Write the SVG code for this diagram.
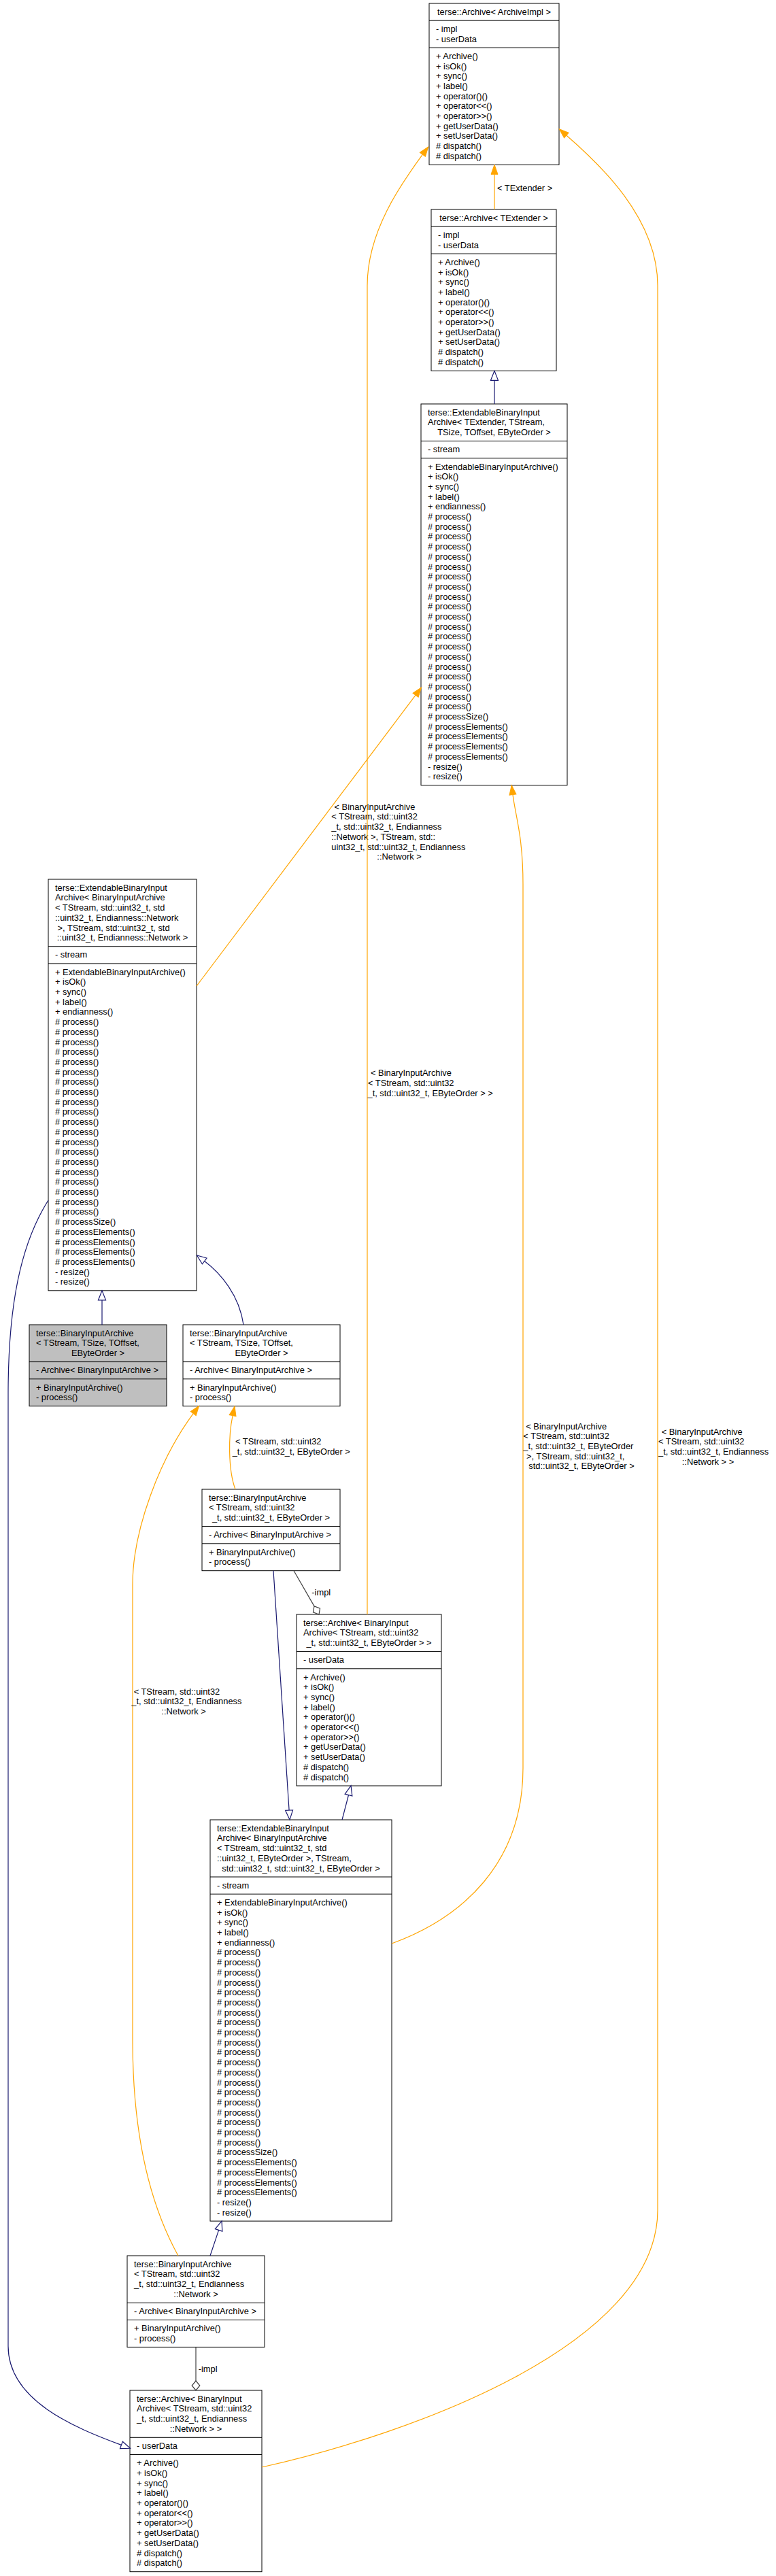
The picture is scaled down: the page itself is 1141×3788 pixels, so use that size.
<svg xmlns="http://www.w3.org/2000/svg" width="1141" height="3788" viewBox="0 0 1141 3788">
<defs>
<style>
.n{fill:#fff;stroke:#000;stroke-width:1}
.g{fill:#bfbfbf;stroke:#000;stroke-width:1}
.d{stroke:#000;stroke-width:1}
text{font-family:"Liberation Sans",Arial,Helvetica,sans-serif;font-size:12.85px;fill:#000}
.m{text-anchor:middle}
.eo{fill:none;stroke:#ffa500;stroke-width:1.2}
.eb{fill:none;stroke:#191970;stroke-width:1.2}
.ea{fill:none;stroke:#404040;stroke-width:1.2}
</style>
<marker id="arrO" markerUnits="userSpaceOnUse" orient="auto" refX="0" refY="5" markerWidth="16" markerHeight="12" overflow="visible"><path d="M0,0 L14,5 L0,10 z" fill="#ffa500" stroke="#ffa500" stroke-width="1"/></marker>
<marker id="triB" markerUnits="userSpaceOnUse" orient="auto" refX="0" refY="5.5" markerWidth="16" markerHeight="12" overflow="visible"><path d="M0,0 L14,5.5 L0,11 z" fill="#fff" stroke="#191970" stroke-width="1.2"/></marker>
<marker id="dia" markerUnits="userSpaceOnUse" orient="auto" refX="0" refY="5.8" markerWidth="16" markerHeight="13" overflow="visible"><path d="M0,5.8 L7,0 L14,5.8 L7,11.6 z" fill="#fff" stroke="#404040" stroke-width="1.2"/></marker>
</defs>
<rect width="1141" height="3788" fill="#fff"/>

<g id="node1">
<rect class="n" x="631" y="5" width="191" height="237.3"/>
<line class="d" x1="631" y1="30.2" x2="822" y2="30.2"/><line class="d" x1="631" y1="70.1" x2="822" y2="70.1"/>
<text class="m" x="726.5" y="21.75">terse::Archive&lt; ArchiveImpl &gt;</text>
<text x="641" y="46.95"><tspan x="641">- impl</tspan><tspan x="641" dy="14.7">- userData</tspan></text>
<text x="641" y="86.85"><tspan x="641">+ Archive()</tspan><tspan x="641" dy="14.7">+ isOk()</tspan><tspan x="641" dy="14.7">+ sync()</tspan><tspan x="641" dy="14.7">+ label()</tspan><tspan x="641" dy="14.7">+ operator()()</tspan><tspan x="641" dy="14.7">+ operator&lt;&lt;()</tspan><tspan x="641" dy="14.7">+ operator&gt;&gt;()</tspan><tspan x="641" dy="14.7">+ getUserData()</tspan><tspan x="641" dy="14.7">+ setUserData()</tspan><tspan x="641" dy="14.7"># dispatch()</tspan><tspan x="641" dy="14.7"># dispatch()</tspan></text>
</g>

<g id="node2">
<rect class="n" x="634" y="308" width="184" height="237.3"/>
<line class="d" x1="634" y1="333.2" x2="818" y2="333.2"/><line class="d" x1="634" y1="373.1" x2="818" y2="373.1"/>
<text class="m" x="726" y="324.75">terse::Archive&lt; TExtender &gt;</text>
<text x="644" y="349.95"><tspan x="644">- impl</tspan><tspan x="644" dy="14.7">- userData</tspan></text>
<text x="644" y="389.85"><tspan x="644">+ Archive()</tspan><tspan x="644" dy="14.7">+ isOk()</tspan><tspan x="644" dy="14.7">+ sync()</tspan><tspan x="644" dy="14.7">+ label()</tspan><tspan x="644" dy="14.7">+ operator()()</tspan><tspan x="644" dy="14.7">+ operator&lt;&lt;()</tspan><tspan x="644" dy="14.7">+ operator&gt;&gt;()</tspan><tspan x="644" dy="14.7">+ getUserData()</tspan><tspan x="644" dy="14.7">+ setUserData()</tspan><tspan x="644" dy="14.7"># dispatch()</tspan><tspan x="644" dy="14.7"># dispatch()</tspan></text>
</g>

<g id="node3">
<rect class="n" x="619" y="594" width="215" height="560.7"/>
<line class="d" x1="619" y1="648.6" x2="834" y2="648.6"/><line class="d" x1="619" y1="673.8" x2="834" y2="673.8"/>
<text x="629" y="610.75"><tspan x="629">terse::ExtendableBinaryInput</tspan><tspan x="629" dy="14.7">Archive&lt; TExtender, TStream,</tspan></text>
<text class="m" x="726.5" y="640.15">TSize, TOffset, EByteOrder &gt;</text>
<text x="629" y="665.35">- stream</text>
<text x="629" y="690.55"><tspan x="629">+ ExtendableBinaryInputArchive()</tspan><tspan x="629" dy="14.7">+ isOk()</tspan><tspan x="629" dy="14.7">+ sync()</tspan><tspan x="629" dy="14.7">+ label()</tspan><tspan x="629" dy="14.7">+ endianness()</tspan><tspan x="629" dy="14.7"># process()</tspan><tspan x="629" dy="14.7"># process()</tspan><tspan x="629" dy="14.7"># process()</tspan><tspan x="629" dy="14.7"># process()</tspan><tspan x="629" dy="14.7"># process()</tspan><tspan x="629" dy="14.7"># process()</tspan><tspan x="629" dy="14.7"># process()</tspan><tspan x="629" dy="14.7"># process()</tspan><tspan x="629" dy="14.7"># process()</tspan><tspan x="629" dy="14.7"># process()</tspan><tspan x="629" dy="14.7"># process()</tspan><tspan x="629" dy="14.7"># process()</tspan><tspan x="629" dy="14.7"># process()</tspan><tspan x="629" dy="14.7"># process()</tspan><tspan x="629" dy="14.7"># process()</tspan><tspan x="629" dy="14.7"># process()</tspan><tspan x="629" dy="14.7"># process()</tspan><tspan x="629" dy="14.7"># process()</tspan><tspan x="629" dy="14.7"># process()</tspan><tspan x="629" dy="14.7"># process()</tspan><tspan x="629" dy="14.7"># processSize()</tspan><tspan x="629" dy="14.7"># processElements()</tspan><tspan x="629" dy="14.7"># processElements()</tspan><tspan x="629" dy="14.7"># processElements()</tspan><tspan x="629" dy="14.7"># processElements()</tspan><tspan x="629" dy="14.7">- resize()</tspan><tspan x="629" dy="14.7">- resize()</tspan></text>
</g>

<g id="node4">
<rect class="n" x="71" y="1293" width="218" height="604.8"/>
<line class="d" x1="71" y1="1391.7" x2="289" y2="1391.7"/><line class="d" x1="71" y1="1416.9" x2="289" y2="1416.9"/>
<text x="81" y="1309.75"><tspan x="81">terse::ExtendableBinaryInput</tspan><tspan x="81" dy="14.7">Archive&lt; BinaryInputArchive</tspan><tspan x="81" dy="14.7">&lt; TStream, std::uint32_t, std</tspan><tspan x="81" dy="14.7">::uint32_t, Endianness::Network</tspan><tspan x="84.5" dy="14.7">&gt;, TStream, std::uint32_t, std</tspan></text>
<text class="m" x="180" y="1383.25">::uint32_t, Endianness::Network &gt;</text>
<text x="81" y="1408.45">- stream</text>
<text x="81" y="1433.65"><tspan x="81">+ ExtendableBinaryInputArchive()</tspan><tspan x="81" dy="14.7">+ isOk()</tspan><tspan x="81" dy="14.7">+ sync()</tspan><tspan x="81" dy="14.7">+ label()</tspan><tspan x="81" dy="14.7">+ endianness()</tspan><tspan x="81" dy="14.7"># process()</tspan><tspan x="81" dy="14.7"># process()</tspan><tspan x="81" dy="14.7"># process()</tspan><tspan x="81" dy="14.7"># process()</tspan><tspan x="81" dy="14.7"># process()</tspan><tspan x="81" dy="14.7"># process()</tspan><tspan x="81" dy="14.7"># process()</tspan><tspan x="81" dy="14.7"># process()</tspan><tspan x="81" dy="14.7"># process()</tspan><tspan x="81" dy="14.7"># process()</tspan><tspan x="81" dy="14.7"># process()</tspan><tspan x="81" dy="14.7"># process()</tspan><tspan x="81" dy="14.7"># process()</tspan><tspan x="81" dy="14.7"># process()</tspan><tspan x="81" dy="14.7"># process()</tspan><tspan x="81" dy="14.7"># process()</tspan><tspan x="81" dy="14.7"># process()</tspan><tspan x="81" dy="14.7"># process()</tspan><tspan x="81" dy="14.7"># process()</tspan><tspan x="81" dy="14.7"># process()</tspan><tspan x="81" dy="14.7"># processSize()</tspan><tspan x="81" dy="14.7"># processElements()</tspan><tspan x="81" dy="14.7"># processElements()</tspan><tspan x="81" dy="14.7"># processElements()</tspan><tspan x="81" dy="14.7"># processElements()</tspan><tspan x="81" dy="14.7">- resize()</tspan><tspan x="81" dy="14.7">- resize()</tspan></text>
</g>

<g id="node5">
<rect class="g" x="43" y="1948" width="202" height="119.7"/>
<line class="d" x1="43" y1="2002.6" x2="245" y2="2002.6"/><line class="d" x1="43" y1="2027.8" x2="245" y2="2027.8"/>
<text x="53" y="1964.75"><tspan x="53">terse::BinaryInputArchive</tspan><tspan x="53" dy="14.7">&lt; TStream, TSize, TOffset,</tspan></text>
<text class="m" x="144" y="1994.15">EByteOrder &gt;</text>
<text x="53" y="2019.35">- Archive&lt; BinaryInputArchive &gt;</text>
<text x="53" y="2044.55"><tspan x="53">+ BinaryInputArchive()</tspan><tspan x="53" dy="14.7">- process()</tspan></text>
</g>

<g id="node6">
<rect class="n" x="269" y="1948" width="231" height="119.7"/>
<line class="d" x1="269" y1="2002.6" x2="500" y2="2002.6"/><line class="d" x1="269" y1="2027.8" x2="500" y2="2027.8"/>
<text x="279" y="1964.75"><tspan x="279">terse::BinaryInputArchive</tspan><tspan x="279" dy="14.7">&lt; TStream, TSize, TOffset,</tspan></text>
<text class="m" x="384.5" y="1994.15">EByteOrder &gt;</text>
<text x="279" y="2019.35">- Archive&lt; BinaryInputArchive &gt;</text>
<text x="279" y="2044.55"><tspan x="279">+ BinaryInputArchive()</tspan><tspan x="279" dy="14.7">- process()</tspan></text>
</g>

<g id="node7">
<rect class="n" x="297" y="2190" width="203" height="119.7"/>
<line class="d" x1="297" y1="2244.6" x2="500" y2="2244.6"/><line class="d" x1="297" y1="2269.8" x2="500" y2="2269.8"/>
<text x="307" y="2206.75"><tspan x="307">terse::BinaryInputArchive</tspan><tspan x="307" dy="14.7">&lt; TStream, std::uint32</tspan></text>
<text class="m" x="398.5" y="2236.15">_t, std::uint32_t, EByteOrder &gt;</text>
<text x="307" y="2261.35">- Archive&lt; BinaryInputArchive &gt;</text>
<text x="307" y="2286.55"><tspan x="307">+ BinaryInputArchive()</tspan><tspan x="307" dy="14.7">- process()</tspan></text>
</g>

<g id="node8">
<rect class="n" x="436" y="2374" width="213" height="252"/>
<line class="d" x1="436" y1="2428.6" x2="649" y2="2428.6"/><line class="d" x1="436" y1="2453.8" x2="649" y2="2453.8"/>
<text x="446" y="2390.75"><tspan x="446">terse::Archive&lt; BinaryInput</tspan><tspan x="446" dy="14.7">Archive&lt; TStream, std::uint32</tspan></text>
<text class="m" x="542.5" y="2420.15">_t, std::uint32_t, EByteOrder &gt; &gt;</text>
<text x="446" y="2445.35">- userData</text>
<text x="446" y="2470.55"><tspan x="446">+ Archive()</tspan><tspan x="446" dy="14.7">+ isOk()</tspan><tspan x="446" dy="14.7">+ sync()</tspan><tspan x="446" dy="14.7">+ label()</tspan><tspan x="446" dy="14.7">+ operator()()</tspan><tspan x="446" dy="14.7">+ operator&lt;&lt;()</tspan><tspan x="446" dy="14.7">+ operator&gt;&gt;()</tspan><tspan x="446" dy="14.7">+ getUserData()</tspan><tspan x="446" dy="14.7">+ setUserData()</tspan><tspan x="446" dy="14.7"># dispatch()</tspan><tspan x="446" dy="14.7"># dispatch()</tspan></text>
</g>

<g id="node9">
<rect class="n" x="309" y="2676" width="267" height="590.1"/>
<line class="d" x1="309" y1="2760" x2="576" y2="2760"/><line class="d" x1="309" y1="2785.2" x2="576" y2="2785.2"/>
<text x="319" y="2692.75"><tspan x="319">terse::ExtendableBinaryInput</tspan><tspan x="319" dy="14.7">Archive&lt; BinaryInputArchive</tspan><tspan x="319" dy="14.7">&lt; TStream, std::uint32_t, std</tspan><tspan x="319" dy="14.7">::uint32_t, EByteOrder &gt;, TStream,</tspan></text>
<text class="m" x="442.5" y="2751.55">std::uint32_t, std::uint32_t, EByteOrder &gt;</text>
<text x="319" y="2776.75">- stream</text>
<text x="319" y="2801.95"><tspan x="319">+ ExtendableBinaryInputArchive()</tspan><tspan x="319" dy="14.7">+ isOk()</tspan><tspan x="319" dy="14.7">+ sync()</tspan><tspan x="319" dy="14.7">+ label()</tspan><tspan x="319" dy="14.7">+ endianness()</tspan><tspan x="319" dy="14.7"># process()</tspan><tspan x="319" dy="14.7"># process()</tspan><tspan x="319" dy="14.7"># process()</tspan><tspan x="319" dy="14.7"># process()</tspan><tspan x="319" dy="14.7"># process()</tspan><tspan x="319" dy="14.7"># process()</tspan><tspan x="319" dy="14.7"># process()</tspan><tspan x="319" dy="14.7"># process()</tspan><tspan x="319" dy="14.7"># process()</tspan><tspan x="319" dy="14.7"># process()</tspan><tspan x="319" dy="14.7"># process()</tspan><tspan x="319" dy="14.7"># process()</tspan><tspan x="319" dy="14.7"># process()</tspan><tspan x="319" dy="14.7"># process()</tspan><tspan x="319" dy="14.7"># process()</tspan><tspan x="319" dy="14.7"># process()</tspan><tspan x="319" dy="14.7"># process()</tspan><tspan x="319" dy="14.7"># process()</tspan><tspan x="319" dy="14.7"># process()</tspan><tspan x="319" dy="14.7"># process()</tspan><tspan x="319" dy="14.7"># processSize()</tspan><tspan x="319" dy="14.7"># processElements()</tspan><tspan x="319" dy="14.7"># processElements()</tspan><tspan x="319" dy="14.7"># processElements()</tspan><tspan x="319" dy="14.7"># processElements()</tspan><tspan x="319" dy="14.7">- resize()</tspan><tspan x="319" dy="14.7">- resize()</tspan></text>
</g>

<g id="node10">
<rect class="n" x="187" y="3317" width="202" height="134.4"/>
<line class="d" x1="187" y1="3386.3" x2="389" y2="3386.3"/><line class="d" x1="187" y1="3411.5" x2="389" y2="3411.5"/>
<text x="197" y="3333.75"><tspan x="197">terse::BinaryInputArchive</tspan><tspan x="197" dy="14.7">&lt; TStream, std::uint32</tspan><tspan x="197" dy="14.7">_t, std::uint32_t, Endianness</tspan></text>
<text class="m" x="288" y="3377.85">::Network &gt;</text>
<text x="197" y="3403.05">- Archive&lt; BinaryInputArchive &gt;</text>
<text x="197" y="3428.25"><tspan x="197">+ BinaryInputArchive()</tspan><tspan x="197" dy="14.7">- process()</tspan></text>
</g>

<g id="node11">
<rect class="n" x="191" y="3515" width="194" height="266.7"/>
<line class="d" x1="191" y1="3584.3" x2="385" y2="3584.3"/><line class="d" x1="191" y1="3609.5" x2="385" y2="3609.5"/>
<text x="201" y="3531.75"><tspan x="201">terse::Archive&lt; BinaryInput</tspan><tspan x="201" dy="14.7">Archive&lt; TStream, std::uint32</tspan><tspan x="201" dy="14.7">_t, std::uint32_t, Endianness</tspan></text>
<text class="m" x="288" y="3575.85">::Network &gt; &gt;</text>
<text x="201" y="3601.05">- userData</text>
<text x="201" y="3626.25"><tspan x="201">+ Archive()</tspan><tspan x="201" dy="14.7">+ isOk()</tspan><tspan x="201" dy="14.7">+ sync()</tspan><tspan x="201" dy="14.7">+ label()</tspan><tspan x="201" dy="14.7">+ operator()()</tspan><tspan x="201" dy="14.7">+ operator&lt;&lt;()</tspan><tspan x="201" dy="14.7">+ operator&gt;&gt;()</tspan><tspan x="201" dy="14.7">+ getUserData()</tspan><tspan x="201" dy="14.7">+ setUserData()</tspan><tspan x="201" dy="14.7"># dispatch()</tspan><tspan x="201" dy="14.7"># dispatch()</tspan></text>
</g>

<g id="connectors">
<path class="eo" d="M727,308 L727,256.3" marker-end="url(#arrO)"/>
<text x="731" y="281">&lt; TExtender &gt;</text>
<path class="eb" d="M727,594 L727,559.3" marker-end="url(#triB)"/>
<path class="eo" d="M289,1450 L611.1,1022.2" marker-end="url(#arrO)"/>
<text x="491.5" y="1190.7"><tspan x="491.5">&lt; BinaryInputArchive</tspan><tspan x="487.3" dy="14.7">&lt; TStream, std::uint32</tspan><tspan x="487.3" dy="14.7">_t, std::uint32_t, Endianness</tspan><tspan x="487.3" dy="14.7">::Network &gt;, TStream, std::</tspan><tspan x="487.3" dy="14.7">uint32_t, std::uint32_t, Endianness</tspan></text>
<text class="m" x="587" y="1264.2">::Network &gt;</text>
<path class="eo" d="M540,2374 L540,420 C540,340 590,270 621.4,227.2" marker-end="url(#arrO)"/>
<text x="545" y="1582.3"><tspan x="545">&lt; BinaryInputArchive</tspan><tspan x="541" dy="14.7">&lt; TStream, std::uint32</tspan><tspan x="540.5" dy="14.7">_t, std::uint32_t, EByteOrder &gt; &gt;</tspan></text>
<path class="eo" d="M385,3628 C600,3580 967,3450 967,3250 L967,420 C967,320 880,240 832.8,199" marker-end="url(#arrO)"/>
<text x="972.7" y="2109.5"><tspan x="972.7">&lt; BinaryInputArchive</tspan><tspan x="968" dy="14.7">&lt; TStream, std::uint32</tspan><tspan x="968" dy="14.7">_t, std::uint32_t, Endianness</tspan></text>
<text class="m" x="1041" y="2153.6">::Network &gt; &gt;</text>
<path class="eo" d="M576,2858 C680,2820 769,2740 769,2600 L769,1300 C769,1230 758,1200 754,1168.6" marker-end="url(#arrO)"/>
<text x="773.3" y="2101.5"><tspan x="773.3">&lt; BinaryInputArchive</tspan><tspan x="769.3" dy="14.7">&lt; TStream, std::uint32</tspan><tspan x="769.3" dy="14.7">_t, std::uint32_t, EByteOrder</tspan><tspan x="774" dy="14.7">&gt;, TStream, std::uint32_t,</tspan></text>
<text class="m" x="855" y="2160.3">std::uint32_t, EByteOrder &gt;</text>
<path class="eb" d="M150,1948 L150,1911.8" marker-end="url(#triB)"/>
<path class="eb" d="M358,1948 C352,1905 324.7,1872.4 300.7,1854.4" marker-end="url(#triB)"/>
<path class="eb" d="M71,1765 C30,1830 12,1920 12,2050 L12,3450 C12,3530 110,3570 178.4,3595.4" marker-end="url(#triB)"/>
<path class="eo" d="M346,2190 C335,2160 336,2110 342.1,2081.6" marker-end="url(#arrO)"/>
<text x="346" y="2124.3"><tspan x="346">&lt; TStream, std::uint32</tspan><tspan x="341.7" dy="14.7">_t, std::uint32_t, EByteOrder &gt;</tspan></text>
<path class="eo" d="M262,3317 C225,3250 195,3150 195,3000 L195,2330 C195,2250 235,2145 284.2,2078.6" marker-end="url(#arrO)"/>
<text x="196.7" y="2491.7"><tspan x="196.7">&lt; TStream, std::uint32</tspan><tspan x="193.3" dy="14.7">_t, std::uint32_t, Endianness</tspan></text>
<text class="m" x="270" y="2521.1">::Network &gt;</text>
<path class="ea" d="M432,2309.7 L462,2361.9" marker-end="url(#dia)"/>
<text x="458.3" y="2345.7">-impl</text>
<path class="eb" d="M402,2309.7 L425.1,2662" marker-end="url(#triB)"/>
<path class="eb" d="M503,2676 L512.5,2639.5" marker-end="url(#triB)"/>
<path class="eb" d="M309,3317 L321.6,3279.4" marker-end="url(#triB)"/>
<path class="ea" d="M288,3451.4 L288,3501" marker-end="url(#dia)"/>
<text x="291.7" y="3487.7">-impl</text>
</g>
</svg>
